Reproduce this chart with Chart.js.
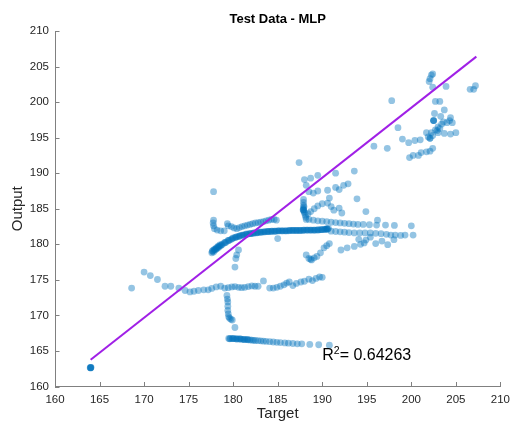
<!DOCTYPE html>
<html>
<head>
<meta charset="utf-8">
<script src="https://cdn.jsdelivr.net/npm/chart.js@4/dist/chart.umd.min.js"></script>
<style>
  html, body { margin: 0; padding: 0; background: #ffffff; }
  #wrap { width: 516px; height: 428px; }
</style>
</head>
<body>
<div id="wrap"><canvas id="c" width="516" height="428"></canvas></div>
<script>
// Test samples: [target, output] pairs, grouped by region of the plot
const lowTail = [[164.0,162.65],[164.0,162.65],[164.0,162.6],[164.05,162.7],[163.95,162.65]];

const row174 = [[168.6,173.85],[170.0,176.1],[170.7,175.6],[171.5,175.05],[172.35,174.1],[173.0,174.1],
  [173.9,173.85],[174.6,173.5],[175.15,173.3],[175.6,173.4],[176.1,173.5],[176.7,173.6],[177.2,173.6],
  [177.6,173.8],[178.1,174.0],[178.6,174.1],[179.05,173.85],[179.45,173.9],[179.85,174.0],[180.2,174.05],
  [180.6,173.95],[180.95,173.9],[181.3,173.95],[181.7,174.05],[182.1,174.15],[182.45,174.1],[182.8,174.1],
  [183.4,174.85],[184.1,173.85],[184.5,173.85],[184.9,173.95],[185.3,174.1],[185.7,174.3],[186.0,174.55],
  [186.3,174.7],[186.7,174.2],[187.1,174.5],[187.6,174.7],[188.0,174.8],[188.5,175.1],[188.9,174.9],
  [189.3,175.2],[189.7,175.4],[190.0,175.35]];

const dropColumn = [[179.3,172.8],[179.35,172.3],[179.4,171.9],[179.4,171.3],[179.4,170.7],[179.45,170.2],
  [179.5,169.8],[179.6,169.6],[179.75,169.45],[179.9,169.35],[180.2,168.3]];

const floorRow = [[179.5,166.75],[179.7,166.75],[179.9,166.72],[180.1,166.72],[180.3,166.7],[180.5,166.7],
  [180.7,166.68],[180.9,166.66],[181.1,166.64],[181.3,166.62],[181.5,166.6],[181.7,166.57],[181.9,166.55],
  [182.1,166.52],[182.3,166.5],[182.5,166.47],[182.8,166.44],[183.1,166.42],[183.4,166.38],[183.7,166.35],
  [184.1,166.3],[184.5,166.26],[184.9,166.22],[185.3,166.18],[185.8,166.13],[186.2,166.1],[186.7,166.05],
  [187.2,166.0],[187.7,166.0],[188.6,165.92],[189.6,165.87],[190.8,165.8],
  [179.6,166.7],[180.0,166.75],[180.4,166.68],[180.8,166.7],[181.2,166.6],[181.6,166.62]];

const riseColumn = [[180.6,179.2],[180.4,178.5],[180.3,178.0],[180.2,176.8]];

const mainBand = [[177.6,178.8],[177.7,179.1],[177.8,178.9],[177.9,179.3],[178.0,179.2],[178.1,179.5],
  [178.2,179.4],[178.3,179.7],[178.4,179.6],[178.5,179.9],[178.6,179.8],[178.8,180.0],[179.0,180.2],
  [179.2,180.3],[179.4,180.5],[179.6,180.6],[179.8,180.7],[180.0,180.9],[180.2,180.95],[180.4,181.05],
  [180.6,181.1],[180.8,181.2],[181.0,181.3],[181.2,181.3],[181.4,181.4],[181.6,181.4],[181.8,181.5],
  [182.0,181.5],[182.2,181.55],[182.4,181.6],[182.6,181.6],[182.8,181.65],[183.0,181.7],[183.2,181.7],
  [183.4,181.75],[183.6,181.75],[183.8,181.8],[184.0,181.8],[184.2,181.8],[184.4,181.85],[184.6,181.85],
  [184.8,181.85],[185.0,181.9],[185.2,181.9],[185.4,181.9],[185.6,181.9],[185.8,181.9],[186.0,181.9],
  [186.2,181.9],[186.4,181.95],[186.6,181.95],[186.8,181.95],[187.0,181.95],[187.2,181.95],[187.4,181.95],
  [187.6,181.95],[187.8,181.95],[188.0,182.0],[188.2,182.0],[188.4,182.0],[188.6,182.0],[188.8,182.0],
  [189.0,182.0],[189.2,182.0],[189.4,182.0],[189.6,182.0],[189.8,182.05],[190.0,182.05],[190.2,182.1],
  [190.4,182.1],[190.5,182.2],[190.6,182.1],[190.7,182.25]];

// second pass of samples along the densest stretch of the band
const bandRepeat = [[177.65,179.0],[177.85,179.2],[178.05,179.35],[178.25,179.55],[178.45,179.75],
  [178.7,179.95],[179.1,180.25],[179.5,180.55],[179.9,180.8],[180.3,181.0],[180.7,181.15],[181.1,181.3],
  [181.5,181.45],[181.9,181.5],[182.3,181.6],[182.7,181.65],[183.1,181.7],[183.5,181.75],[183.9,181.8],
  [184.3,181.85],[184.7,181.85],[185.1,181.9],[185.5,181.9],[185.9,181.9],[186.3,181.95],[186.7,181.95],
  [187.1,181.95],[187.5,181.95],[187.9,182.0],[188.3,182.0],[188.7,182.0],[189.1,182.0],[189.5,182.05],
  [189.9,182.05],[190.3,182.1],[190.55,182.15]];

const leftArc = [[177.8,183.4],[177.75,183.0],[177.8,182.6],[177.9,182.2],[178.2,182.0],[178.6,181.9],
  [179.0,181.9],[179.35,182.9],[179.45,182.6],[179.8,182.5],[180.1,182.3]];

const upperBranch = [[180.4,182.2],[180.7,182.35],[181.0,182.5],[181.3,182.6],[181.6,182.7],[181.9,182.8],
  [182.2,182.9],[182.5,183.0],[182.8,183.05],[183.1,183.1],[183.4,183.2],[183.7,183.3],[184.0,183.4],
  [184.3,183.5],[184.6,183.5],[184.85,183.4]];

const loosePoints = [[177.8,187.4],[185.0,180.8],[187.4,191.5]];

const forkColumn = [[187.9,186.3],[187.9,185.9],[187.9,185.5],[187.9,185.1],[187.85,184.85],[187.9,184.8],
  [187.95,184.6],[188.0,184.4],[188.1,184.1],[188.15,183.8],[188.2,183.5],[187.9,184.9],[187.95,185.3]];

const hook = [[188.4,184.3],[188.7,184.6],[189.1,185.0],[189.5,185.4],[190.0,185.7],[190.6,185.8],
  [191.0,185.3],[191.3,184.8]];

const upperFork = [[188.5,183.5],[189.0,183.4],[189.5,183.3],[190.0,183.25],[190.5,183.2],[191.0,183.1],
  [191.5,183.05],[192.0,183.0],[192.5,182.95],[193.0,182.9],[193.5,182.85],[194.0,182.8],[194.6,182.8],
  [195.3,182.75],[196.1,182.7],[197.1,182.7],[198.1,182.65],[200.0,182.6]];

const lowerFork = [[191.0,181.85],[191.5,181.8],[192.0,181.75],[192.5,181.7],[193.0,181.65],[193.6,181.6],
  [194.2,181.6],[194.8,181.6],[195.4,181.6],[196.0,181.55],[196.6,181.5],[197.2,181.4],[197.7,181.3],
  [198.2,181.3],[198.8,181.25],[199.3,181.3],[200.2,181.3]];

const risingArm = [[192.1,179.2],[192.8,179.5],[193.6,179.7],[194.3,180.0],[194.9,180.6],[195.4,181.0],
  [194.1,180.7],[194.7,180.2],[196.0,180.1],[196.7,180.45],[197.35,179.95],[198.05,180.65]];

const lowerHook = [[188.2,178.5],[188.5,178.0],[188.7,177.9],[188.8,177.8],[189.1,178.1],[189.4,178.3],
  [189.8,178.8],[190.2,179.5],[190.5,179.8],[190.8,180.1]];

const midScatter = [[188.0,189.1],[188.7,189.3],[189.5,189.7],[191.5,190.0],[193.6,190.3],[188.2,188.3],
  [188.5,187.4],[189.0,187.2],[189.5,187.5],[190.6,187.6],[191.5,188.0],[191.9,187.7],[192.4,188.3],
  [192.9,188.5],[190.8,186.5],[193.9,186.4],[191.9,185.1],[192.2,184.4],[194.9,184.6],[196.2,183.4]];

const upperCluster = [[195.8,193.8],[197.3,193.5],[197.8,200.2],[198.5,196.4],[199.0,194.8],[199.7,194.3],
  [200.4,194.6],[201.0,194.7],[199.8,192.2],[200.2,192.5],[200.8,192.5],[201.1,192.9],[201.7,193.0],
  [202.1,193.1],[202.4,193.5],[202.0,202.9],[202.1,203.3],[202.25,203.8],[202.4,203.95],[202.4,202.1],
  [203.9,202.2],[206.6,201.8],[207.0,201.8],[207.2,202.3],[202.7,200.1],[203.2,200.1],[202.6,198.4],
  [203.7,198.9],[203.3,198.0],[204.4,197.8],[204.6,197.1],[204.0,197.1],[202.5,197.4],[202.5,197.4],
  [202.5,197.4],[203.0,196.5],[203.4,196.9],[202.7,196.1],[202.25,195.7],[201.7,195.7],[201.9,195.1],
  [202.1,194.9],[202.1,194.9],[203.0,195.7],[203.7,195.6],[204.4,195.5],[205.0,195.7],[203.2,196.3],
  [202.9,196.0],[203.6,197.2],[204.3,197.4],[202.4,195.3]];

// Least-squares fit line end points and its R² value
const fitTarget = [164.0, 207.3];
const fitOutput = [163.76, 206.4];
const rSquared = '0.64263';

const xTicks = [160, 165, 170, 175, 180, 185, 190, 195, 200, 205, 210];
const yTicks = [160, 165, 170, 175, 180, 185, 190, 195, 200, 205, 210];

const samples = [].concat(lowTail, row174, dropColumn, floorRow, riseColumn, mainBand, bandRepeat,
  leftArc, upperBranch, loosePoints, forkColumn, hook, upperFork, lowerFork, risingArm, lowerHook,
  midScatter, upperCluster).map(p => ({ x: p[0], y: p[1] }));

const FONT = "'Liberation Sans', Arial, Helvetica, sans-serif";
const AXIS = '#808080';
const TEXT = '#262626';
Chart.defaults.font.family = FONT;

// MATLAB-style ticks pointing into the plot box
const innerTicks = {
  id: 'innerTicks',
  afterDraw(chart) {
    const { ctx, chartArea: a, scales: { x, y } } = chart;
    ctx.save();
    ctx.strokeStyle = AXIS;
    ctx.lineWidth = 1;
    ctx.beginPath();
    xTicks.forEach(v => {
      const px = Math.round(x.getPixelForValue(v)) + 0.5;
      ctx.moveTo(px, a.bottom);
      ctx.lineTo(px, a.bottom - 4.5);
    });
    yTicks.forEach(v => {
      const py = Math.round(y.getPixelForValue(v)) + 0.5;
      ctx.moveTo(a.left, py);
      ctx.lineTo(a.left + 4.5, py);
    });
    ctx.stroke();
    ctx.restore();
  }
};

// Title centred over the plot box
const boxTitle = {
  id: 'boxTitle',
  afterDraw(chart) {
    const { ctx, chartArea: a } = chart;
    ctx.save();
    ctx.fillStyle = '#000000';
    ctx.font = 'bold 13px ' + FONT;
    ctx.textAlign = 'center';
    ctx.textBaseline = 'alphabetic';
    ctx.fillText('Test Data - MLP', (a.left + a.right) / 2, 23);
    ctx.restore();
  }
};

// R² annotation placed in data coordinates
const r2Label = {
  id: 'r2Label',
  afterDraw(chart) {
    const { ctx, scales: { x, y } } = chart;
    const px = x.getPixelForValue(190.0);
    const py = y.getPixelForValue(163.7);
    ctx.save();
    ctx.fillStyle = '#000000';
    ctx.textBaseline = 'alphabetic';
    ctx.textAlign = 'left';
    ctx.font = '16px ' + FONT;
    ctx.fillText('R', px, py);
    let w = ctx.measureText('R').width;
    ctx.font = '10.5px ' + FONT;
    ctx.fillText('2', px + w, py - 6.5);
    w += ctx.measureText('2').width;
    ctx.font = '16px ' + FONT;
    ctx.fillText('= ' + rSquared, px + w, py);
    ctx.restore();
  }
};

new Chart(document.getElementById('c'), {
  data: {
    datasets: [
      {
        type: 'line',
        order: 0,
        data: [{ x: fitTarget[0], y: fitOutput[0] }, { x: fitTarget[1], y: fitOutput[1] }],
        borderColor: '#A020E6',
        borderWidth: 2,
        pointRadius: 0,
        fill: false
      },
      {
        type: 'scatter',
        order: 1,
        data: samples,
        backgroundColor: 'rgba(0,114,189,0.42)',
        borderWidth: 0,
        pointRadius: 3.4,
        pointHoverRadius: 3.4
      }
    ]
  },
  options: {
    responsive: false,
    animation: false,
    events: [],
    layout: { padding: { top: 31, right: 11.5, bottom: 0, left: 0 } },
    plugins: {
      legend: { display: false },
      tooltip: { enabled: false },
      title: { display: false }
    },
    scales: {
      x: {
        type: 'linear',
        min: 160,
        max: 210,
        afterBuildTicks: s => { s.ticks = xTicks.map(v => ({ value: v })); },
        ticks: { color: TEXT, font: { size: 11.5 }, padding: 6, maxRotation: 0, autoSkip: false },
        grid: { display: false, drawTicks: false },
        border: { display: true, color: AXIS, width: 1 },
        title: { display: true, text: 'Target', color: TEXT, font: { size: 15 }, padding: { top: 0, bottom: 5.5 } },
        afterFit: s => { s.height = 41.5; }
      },
      y: {
        type: 'linear',
        min: 160,
        max: 210,
        afterBuildTicks: s => { s.ticks = yTicks.map(v => ({ value: v })); },
        ticks: { color: TEXT, font: { size: 11.5 }, padding: 6, autoSkip: false },
        grid: { display: false, drawTicks: false },
        border: { display: true, color: AXIS, width: 1 },
        title: { display: true, text: 'Output', color: TEXT, font: { size: 15 }, padding: { top: 9, bottom: 0 } },
        afterFit: s => { s.width = 55; }
      }
    }
  },
  plugins: [innerTicks, boxTitle, r2Label]
});
</script>
</body>
</html>
